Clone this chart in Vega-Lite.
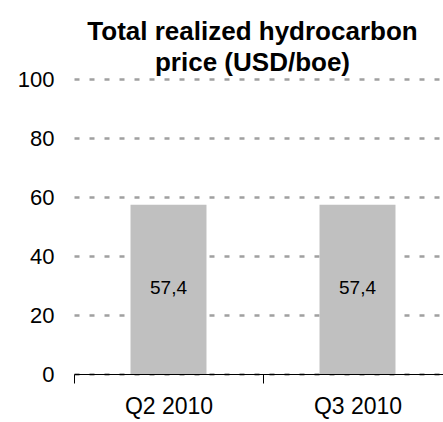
{
  "$schema": "https://vega.github.io/schema/vega-lite/v6.json",
  "autosize": {"type": "none"},
  "padding": {"left": 74, "top": 79, "right": 0, "bottom": 48},
  "width": 369,
  "height": 295,
  "config": {
    "font": "Liberation Sans",
    "view": {"stroke": null},
    "locale": {"number": {"decimal": ",", "thousands": ".", "grouping": [3], "currency": ["", " €"]}}
  },
  "title": {
    "text": ["Total realized hydrocarbon", "price (USD/boe)"],
    "fontSize": 26,
    "fontWeight": "bold",
    "font": "Liberation Sans",
    "color": "#000000",
    "anchor": "middle",
    "dx": -6,
    "offset": -8,
    "lineHeight": 31.5
  },
  "data": {
    "values": [
      {"quarter": "Q2 2010", "value": 57.4},
      {"quarter": "Q3 2010", "value": 57.4}
    ]
  },
  "encoding": {
    "x": {
      "field": "quarter",
      "type": "nominal",
      "sort": null,
      "scale": {"range": [0, 378], "paddingInner": 0, "paddingOuter": 0},
      "axis": {
        "title": null,
        "labelAngle": 0,
        "labelFontSize": 23,
        "labelColor": "#000000",
        "labelPadding": 12,
        "tickBand": "extent",
        "ticks": true,
        "tickSize": 9,
        "tickColor": "#000000",
        "domainColor": "#000000",
        "grid": false
      }
    },
    "y": {
      "field": "value",
      "type": "quantitative",
      "scale": {"domain": [0, 100], "nice": false},
      "axis": {
        "title": null,
        "values": [0, 20, 40, 60, 80, 100],
        "domain": false,
        "ticks": false,
        "labelFontSize": 22,
        "labelColor": "#000000",
        "labelPadding": 20,
        "grid": true,
        "gridColor": "#a0a0a0",
        "gridWidth": 2.5,
        "gridDash": [5, 10]
      }
    }
  },
  "layer": [
    {"mark": {"type": "bar", "color": "#c0c0c0", "width": {"band": 0.402}}},
    {
      "mark": {"type": "text", "fontSize": 19, "color": "#000000", "baseline": "middle", "dy": 83},
      "encoding": {"text": {"field": "value", "type": "quantitative", "format": ".1f"}}
    }
  ]
}
